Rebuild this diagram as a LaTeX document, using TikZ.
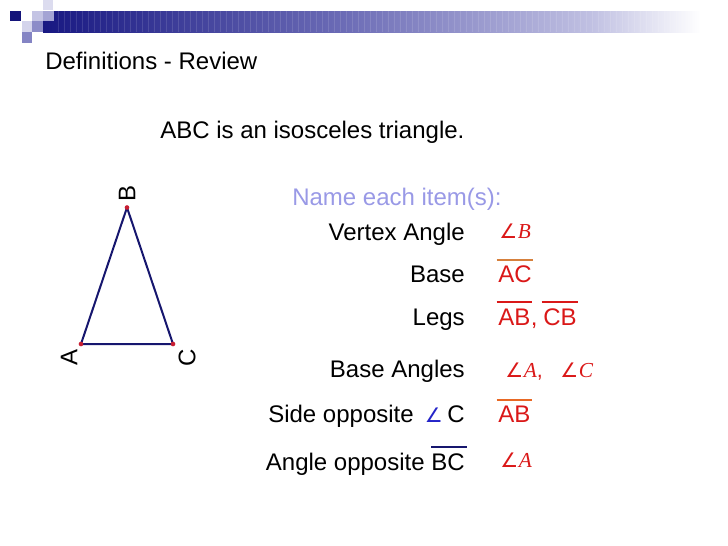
\documentclass[tikz,border=0pt]{standalone}
\usepackage{fontspec}
\setmainfont{Liberation Sans}
\newfontfamily\timesit{Liberation Serif}
\newfontfamily\symfont{DejaVu Sans}
\usepackage{tikz}
\usetikzlibrary{positioning}

\definecolor{barnavy}{RGB}{24,24,130}
\definecolor{barmid}{RGB}{108,108,182}
\definecolor{barpale}{RGB}{192,192,226}
\definecolor{ansred}{RGB}{218,24,24}
\definecolor{askblue}{RGB}{153,153,230}
\definecolor{trinavy}{RGB}{22,22,110}
\definecolor{dotred}{RGB}{200,30,50}
\definecolor{angblue}{RGB}{36,36,200}
\definecolor{barorange}{RGB}{214,128,60}
\definecolor{barorange2}{RGB}{232,104,36}

\newcommand{\anscol}{ansred}
\newcommand{\linecol}{trinavy}
\newcommand{\angsym}{{\symfont\fontsize{15}{18}\selectfont ∠}}
\newcommand{\ang}[1]{\angsym\kern0.5pt{\timesit\itshape #1}}

\pgfdeclarehorizontalshading{headbar}{100bp}{color(0bp)=(barnavy); color(25bp)=(barnavy); color(47bp)=(barmid); color(65bp)=(barpale); color(73bp)=(white); color(100bp)=(white)}

\tikzset{
    txt/.style={inner sep=0pt, font=\fontsize{18}{21}\selectfont},
    lbl/.style={txt, anchor=base east},
    ans/.style={txt, text=\anscol, anchor=base west},
    angans/.style={inner sep=0pt, font=\fontsize{16}{19}\selectfont, text=\anscol, anchor=base west},
    ovbar/.style={line width=1.5pt},
    vertex/.style={circle, fill=dotred, inner sep=0pt, minimum size=3.5pt},
}

\begin{document}
\begin{tikzpicture}[x=0.75pt, y=-0.75pt]

    \useasboundingbox (0,0) rectangle (728,546);

    % header bar
    \shade[shading=headbar] (43,11) rectangle (728,32);
    \foreach \sx in {58,64,...,700}
        \draw[white, opacity=0.12, line width=0.6pt] (\sx,11) -- (\sx,32);
    \fill[fill={rgb,255:red,20;green,20;blue,122}] (10,11) rectangle (21,21);
    \fill[fill={rgb,255:red,220;green,220;blue,239}] (43,0) rectangle (53,10);
    \fill[fill={rgb,255:red,196;green,196;blue,228}] (32,11) rectangle (43,21);
    \fill[fill={rgb,255:red,164;green,164;blue,212}] (43,11) rectangle (54,21);
    \fill[fill={rgb,255:red,212;green,212;blue,236}] (22,21) rectangle (32,32);
    \fill[fill={rgb,255:red,140;green,140;blue,200}] (32,21) rectangle (43,32);
    \fill[fill={rgb,255:red,132;green,132;blue,196}] (22,32) rectangle (32,43);

    \node[txt, anchor=base west] (title) at (45,69) {Definitions - Review};
    \node[txt, anchor=base west] (given) at (160,138) {ABC is an isosceles triangle.};
    \node[txt, anchor=base west, text=askblue] (ask) at (292,205) {Name each item(s):};

    % triangle
    \coordinate (A) at (81,344);
    \coordinate (B) at (127,207.5);
    \coordinate (C) at (173,344);
    \draw[line width=1.5pt, draw=\linecol, line join=round] (A) -- (B) -- (C) -- cycle;
    \node[vertex] (dotA) at (A) {};
    \node[vertex] (dotB) at (B) {};
    \node[vertex] (dotC) at (C) {};
    \node[txt, rotate=90] (labA) at (69,357) {A};
    \node[txt, rotate=90] (labB) at (127,193) {B};
    \node[txt, rotate=90] (labC) at (187,358) {C};

    % items
    \node[lbl] (vtx) at (465,240) {Vertex Angle};
    \node[angans] (vtx-ans) at (499,238) {\ang{B}};

    \node[lbl] (base) at (465,282) {Base};
    \node[ans] (base-ans) at (498,282) {AC};

    \node[lbl] (legs) at (465,325) {Legs};
    \node[ans] (legs-ab) at (498,325) {AB};
    \node[ans] (legs-comma) at (legs-ab.base east) {,};
    \node[ans] (legs-cb) at (543,325) {CB};

    \node[lbl] (bang) at (465,377) {Base Angles};
    \node[angans] (bang-a) at (505,377) {\ang{A},};
    \node[angans] (bang-c) at (560,377) {\ang{C}};

    \node[lbl] (side-c) at (465,422) {C};
    \node[lbl, text=angblue] (side-ang) at (443,422) {\angsym};
    \node[lbl] (side) at (414,422) {Side opposite};
    \node[ans] (side-ans) at (498,422) {AB};

    \node[lbl] (opp-bc) at (465,470) {BC};
    \node[lbl] (opp) at (425,470) {Angle opposite};
    \node[angans] (opp-ans) at (500,467) {\ang{A}};

    % bars
    \draw[ovbar, draw=barorange] ([shift={(-1.5,-5)}]base-ans.north west) -- ([shift={(1.5,-5)}]base-ans.north east);
    \draw[ovbar, draw=\anscol] ([shift={(-1.5,-6)}]legs-ab.north west) -- ([shift={(1.5,-6)}]legs-ab.north east);
    \draw[ovbar, draw=\anscol] ([shift={(-1.5,-6)}]legs-cb.north west) -- ([shift={(1.5,-6)}]legs-cb.north east);
    \draw[ovbar, draw=barorange2] ([shift={(-1.5,-5)}]side-ans.north west) -- ([shift={(1.5,-5)}]side-ans.north east);
    \draw[ovbar, draw=\linecol] ([shift={(0,-6)}]opp-bc.north west) -- ([shift={(1.5,-6)}]opp-bc.north east);

\end{tikzpicture}
\end{document}
